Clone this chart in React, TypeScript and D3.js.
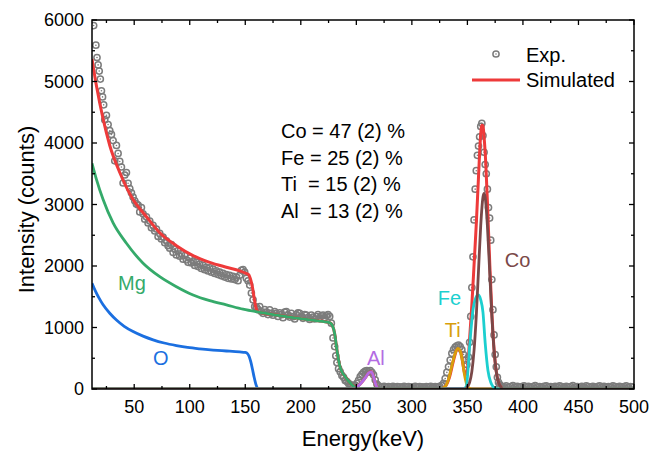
import * as d3 from "d3";

type Pt = [number, number];

// experimental spectrum (energy keV, counts)
const expData: Pt[] = [
  [13.5, 5910], [15.5, 5590], [16.5, 5390], [17.5, 5270], [18.5, 5170], [19.5, 5040], [20.5, 4850], [21.5, 4750],
  [22.5, 4620], [23.5, 4380], [25, 4450], [26.5, 4300], [28, 4200], [29.5, 4140], [31, 4040], [32.5, 3710],
  [34, 3960], [35.5, 3830], [37, 3700], [38.5, 3610], [40, 3350], [41.5, 3480], [43, 3520], [44.5, 3345],
  [46, 3260], [47.5, 3190], [49, 3120], [50.5, 3060],
  [52, 3010], [53.5, 2990], [55, 2880], [56.5, 2950], [58, 2850], [59.5, 2760], [61, 2800], [62.5, 2700],
  [64, 2730], [65.5, 2620], [67, 2660], [68.5, 2570], [70, 2600], [71.5, 2480], [73, 2530], [74.5, 2440],
  [76, 2470], [77.5, 2380], [79, 2410], [80.5, 2330], [82, 2290], [83.5, 2350], [85, 2220], [86.5, 2280],
  [88, 2180], [89.5, 2250], [91, 2160], [92.5, 2200], [94, 2110], [95.5, 2170], [97, 2100], [98.5, 2060],
  [100, 2130], [101.5, 2050], [103, 2080], [104.5, 2010], [106, 2060], [107.5, 1990], [109, 2030], [110.5, 1960],
  [112, 2010], [113.5, 1940], [115, 1980], [116.5, 1920], [118, 1970], [119.5, 1900], [121, 1950], [122.5, 1880],
  [124, 1920], [125.5, 1860], [127, 1900], [128.5, 1840], [130, 1880], [131.5, 1820], [133, 1860], [134.5, 1800],
  [136, 1850], [137.5, 1790], [139, 1830], [140.5, 1780], [142, 1820], [143.5, 1760], [145, 1850], [146.5, 1930],
  [148, 1940], [149.5, 1900], [151, 1800], [152.5, 1760], [154, 1690], [155.5, 1560], [157, 1450], [158.5, 1340],
  [160, 1330], [161.5, 1290], [163, 1340], [164.5, 1260], [166, 1230], [167.5, 1290], [169, 1250], [170.5, 1210],
  [172, 1285], [173.5, 1230], [175, 1200], [176.5, 1260], [178, 1230], [179.5, 1180], [181, 1240], [182.5, 1210],
  [184, 1160], [185.5, 1250], [187, 1257], [188.5, 1200], [190, 1170], [191.5, 1230], [193, 1176], [194.5, 1140],
  [196, 1210], [197.5, 1240], [199, 1230], [200.5, 1180], [202, 1150], [203.5, 1210], [205, 1203], [206.5, 1160],
  [208, 1130], [209.5, 1200], [211, 1170], [212.5, 1140], [214, 1176], [215.5, 1210], [217, 1150], [218.5, 1190],
  [220, 1203], [221.5, 1160], [223, 1190], [224.5, 1210], [226, 1180], [227.5, 1070], [229, 830], [230.5, 690],
  [231.5, 540], [232.5, 430], [234, 330], [235.5, 280], [237, 220], [238.5, 190], [240, 140], [241.5, 120],
  [243, 90], [244.5, 70], [246, 60], [247.5, 55],
  [249, 60], [250.5, 90], [252, 140], [253.5, 200], [255, 240], [256.5, 270], [258, 290], [259.5, 300],
  [261, 280], [262.5, 300], [264, 270], [265.5, 230], [267, 150], [268.5, 80], [270, 50], [271.5, 40],
  [273, 35], [275, 45], [277, 30], [279, 40], [281, 35], [283, 45], [285, 30], [287, 40],
  [289, 35], [291, 30], [293, 45], [295, 35], [297, 40], [299, 30], [301, 35], [303, 45],
  [305, 30], [307, 40], [309, 35], [311, 30], [313, 40], [315, 35], [317, 45], [319, 30],
  [321, 40], [323, 35], [325, 45], [327, 60],
  [328.5, 90], [330, 170], [331.5, 270], [333, 360], [334.5, 470], [336, 580], [337.5, 640], [339, 680],
  [340.5, 700], [342, 715], [343.5, 690], [345, 640], [346.5, 560], [348, 470], [349.5, 400], [351, 520],
  [352, 760], [353, 1180], [354, 1650], [355, 2150], [356, 2750], [357, 3250], [358, 3550], [359, 3800],
  [360, 3950], [361, 4100], [362, 4270], [363, 4320], [364, 4120], [365, 3850], [366, 3650], [367, 3500],
  [368, 3250], [369, 2950], [370, 2780], [371, 2420], [372, 1780], [373, 1290], [374, 880], [375, 560],
  [376, 360], [377, 190], [378, 110], [379, 70], [380, 50],
  [381, 45], [383, 35], [385, 50], [387, 30], [389, 40], [391, 55], [393, 35], [395, 45],
  [397, 30], [399, 40], [401, 50], [403, 35], [405, 45], [407, 30], [409, 40], [411, 55],
  [413, 35], [415, 40], [417, 30], [419, 45], [421, 50], [423, 35], [425, 40], [427, 30],
  [429, 45], [431, 35], [433, 50], [435, 40], [437, 30], [439, 45], [441, 35], [443, 40],
  [445, 55], [447, 30], [449, 40], [451, 35], [453, 45], [455, 30], [457, 50], [459, 40],
  [461, 35], [463, 45], [465, 30], [467, 40], [469, 50], [471, 35], [473, 45], [475, 30],
  [477, 40], [479, 35], [481, 50], [483, 40], [485, 30], [487, 45], [489, 35], [491, 40],
  [493, 50], [495, 30], [497, 40], [499, 35],
];

// simulated total
const simulated: Pt[] = [
  [12, 5366], [16, 4930], [22, 4390], [28, 3960], [37, 3520], [48, 3110], [61, 2800], [73, 2540],
  [88, 2330], [103, 2170], [118, 2060], [133, 1980], [145, 1920], [150, 1885], [153, 1860], [155, 1770],
  [156.5, 1650], [158, 1480], [159.5, 1330], [161, 1265], [163, 1247], [178, 1203], [193, 1162], [208, 1124],
  [224, 1086], [226.5, 1075], [228.5, 1030], [230.5, 900], [232, 700], [233.5, 520], [235, 380], [237, 280],
  [240, 200], [243, 130], [246, 70], [249, 40], [250, 35], [254, 90], [258, 180], [261, 260],
  [263.5, 280], [265.5, 200], [267, 100], [268.5, 30], [270, 0], [326, 0], [330, 40], [334, 200],
  [338, 500], [341, 650], [344, 600], [346, 400], [348, 225], [350, 315], [352, 820], [354, 1370],
  [356, 2020], [358, 2680], [360, 3450], [362, 4150], [363, 4290], [364, 4280], [365, 4100], [366, 3850],
  [368, 3050], [370, 2100], [372, 1250], [374, 650], [376, 283], [378, 108], [380, 35], [382, 0], [500, 0],
];

const oxygen: Pt[] = [
  [12, 1720], [15, 1595], [18, 1490], [22, 1370], [28, 1232], [34, 1122], [41, 1020], [49, 935],
  [58, 860], [67, 800], [77, 748], [88, 706], [98, 675], [109, 652], [121, 633], [133, 618],
  [145, 602], [150, 594], [152, 575], [153.5, 530], [155, 440], [156.5, 320], [158, 190], [159.5, 80],
  [161, 15], [162.5, 0], [500, 0],
];

const magnesium: Pt[] = [
  [12, 3670], [16, 3410], [22, 3080], [31, 2700], [43, 2370], [58, 2045], [73, 1826], [88, 1663],
  [103, 1528], [118, 1436], [133, 1368], [148, 1298], [163, 1247], [178, 1203], [193, 1162], [208, 1124],
  [224, 1086], [226.5, 1075], [228.5, 1030], [230.5, 900], [232, 700], [233.5, 520], [235, 380], [237, 280],
  [240, 200], [243, 130], [246, 70], [249, 25], [252, 0], [500, 0],
];

const aluminium: Pt[] = [
  [12, 0], [246, 0], [250, 20], [254, 90], [258, 180], [261, 260], [263.5, 280], [265.5, 200],
  [267, 100], [268.5, 30], [270, 0], [500, 0],
];

const titanium: Pt[] = [
  [12, 0], [326, 0], [330, 40], [333, 160], [336, 380], [339, 580], [341.5, 660], [343.5, 620],
  [345.5, 460], [347.5, 220], [349.5, 70], [352, 10], [355, 0], [500, 0],
];

const iron: Pt[] = [
  [12, 0], [346, 0], [349, 40], [352, 700], [355, 1285], [357.5, 1480], [359.7, 1530], [362, 1450],
  [364, 1250], [366, 750], [368.5, 300], [371, 110], [373, 40], [376, 0], [500, 0],
];

const cobalt: Pt[] = [
  [12, 0], [348, 0], [350, 35], [352, 108], [354, 283], [356, 630], [358, 1193], [360, 1929],
  [362, 2657], [364, 3117], [365, 3180], [366, 3117], [368, 2657], [370, 1929], [372, 1193], [374, 630],
  [376, 283], [378, 108], [380, 35], [382, 0], [500, 0],
];

const xTicks = [50, 100, 150, 200, 250, 300, 350, 400, 450, 500];
const xMinor = [25, 75, 125, 175, 225, 275, 325, 375, 425, 475];
const yTicks = [0, 1000, 2000, 3000, 4000, 5000, 6000];
const yMinor = [500, 1500, 2500, 3500, 4500, 5500];

const composition = ["Co = 47 (2) %", "Fe = 25 (2) %", "Ti  = 15 (2) %", "Al  = 13 (2) %"];

const FONT = "'Liberation Sans', Arial, Helvetica, sans-serif";

export default function App() {
  const width = 666;
  const height = 454;
  const left = 92, right = 634, top = 20, bottom = 389;

  const x = d3.scaleLinear().domain([12, 500]).range([left, right]);
  const y = d3.scaleLinear().domain([0, 6000]).range([bottom, top]);

  const line = d3
    .line<Pt>()
    .x((d) => x(d[0]))
    .y((d) => y(d[1]))
    .curve(d3.curveMonotoneX);

  const curves = [
    { data: oxygen, color: "#1B6FE0" },
    { data: magnesium, color: "#35AA6A" },
    { data: aluminium, color: "#B36CE3" },
    { data: titanium, color: "#D89E0C" },
    { data: iron, color: "#1CCFCF" },
    { data: cobalt, color: "#7A4848" },
  ];

  return (
    <svg
      width={width}
      height={height}
      style={{ position: "absolute", left: 0, top: 0, background: "#fff" }}
      fontFamily={FONT}
    >
      <defs>
        <clipPath id="plot">
          <rect x={left} y={top - 2} width={right - left} height={bottom - top + 2} />
        </clipPath>
      </defs>

      <g clipPath="url(#plot)">
        {/* experimental points */}
        {expData.map((d, i) => (
          <g key={i}>
            <circle cx={x(d[0])} cy={y(d[1])} r={3.1} fill="none" stroke="#7C7C7C" strokeWidth={1.5} />
            <circle cx={x(d[0])} cy={y(d[1])} r={0.8} fill="#7C7C7C" />
          </g>
        ))}
        <path d={line(simulated) ?? ""} fill="none" stroke="#EE3A3A" strokeWidth={3} />
        {curves.map((c, i) => (
          <path key={i} d={line(c.data) ?? ""} fill="none" stroke={c.color} strokeWidth={2.8} />
        ))}
      </g>

      {/* frame */}
      <rect x={left} y={top} width={right - left} height={bottom - top} fill="none" stroke="#000" strokeWidth={1.5} />

      {/* x ticks bottom & top */}
      {xTicks.map((t) => (
        <g key={"xt" + t}>
          <line x1={x(t)} x2={x(t)} y1={bottom} y2={bottom - 5} stroke="#000" strokeWidth={1.3} />
          <line x1={x(t)} x2={x(t)} y1={top} y2={top + 5} stroke="#000" strokeWidth={1.3} />
          <text x={x(t)} y={bottom + 24} textAnchor="middle" fontSize={18} fill="#000">
            {t}
          </text>
        </g>
      ))}
      {xMinor.map((t) => (
        <g key={"xm" + t}>
          <line x1={x(t)} x2={x(t)} y1={bottom} y2={bottom - 3} stroke="#000" strokeWidth={1.3} />
          <line x1={x(t)} x2={x(t)} y1={top} y2={top + 3} stroke="#000" strokeWidth={1.3} />
        </g>
      ))}

      {/* y ticks left & right */}
      {yTicks.map((t) => (
        <g key={"yt" + t}>
          <line x1={left} x2={left + 5} y1={y(t)} y2={y(t)} stroke="#000" strokeWidth={1.3} />
          <line x1={right} x2={right - 5} y1={y(t)} y2={y(t)} stroke="#000" strokeWidth={1.3} />
          <text x={left - 8} y={y(t)} dy="0.36em" textAnchor="end" fontSize={18} fill="#000">
            {t}
          </text>
        </g>
      ))}
      {yMinor.map((t) => (
        <g key={"ym" + t}>
          <line x1={left} x2={left + 3} y1={y(t)} y2={y(t)} stroke="#000" strokeWidth={1.3} />
          <line x1={right} x2={right - 3} y1={y(t)} y2={y(t)} stroke="#000" strokeWidth={1.3} />
        </g>
      ))}

      {/* axis titles */}
      <text x={(left + right) / 2} y={446} textAnchor="middle" fontSize={22} fill="#000">
        Energy(keV)
      </text>
      <text
        transform={`translate(34, ${(top + bottom) / 2 + 5}) rotate(-90)`}
        textAnchor="middle"
        fontSize={22}
        fill="#000"
      >
        Intensity (counts)
      </text>

      {/* element labels */}
      <text x={x(35.4)} y={y(1610)} fontSize={20} fill="#35AA6A">Mg</text>
      <text x={x(66.9)} y={y(390)} fontSize={20} fill="#1B6FE0">O</text>
      <text x={x(259.5)} y={y(390)} fontSize={20} fill="#B36CE3">Al</text>
      <text x={x(323.4)} y={y(1366)} fontSize={20} fill="#1CCFCF">Fe</text>
      <text x={x(329.7)} y={y(846)} fontSize={20} fill="#D89E0C">Ti</text>
      <text x={x(383.7)} y={y(1984)} fontSize={20} fill="#7A4848">Co</text>

      {/* composition */}
      {composition.map((s, i) => (
        <text key={s} x={281} y={138 + i * 26.5} fontSize={20} fill="#000" style={{ whiteSpace: "pre" }}>
          {s}
        </text>
      ))}

      {/* legend */}
      <circle cx={496} cy={54} r={3.1} fill="none" stroke="#7C7C7C" strokeWidth={1.5} />
      <circle cx={496} cy={54} r={0.8} fill="#7C7C7C" />
      <text x={526} y={62} fontSize={20} fill="#000">Exp.</text>
      <line x1={472} x2={520} y1={80} y2={80} stroke="#EE3A3A" strokeWidth={3} />
      <text x={526} y={87} fontSize={20} fill="#000">Simulated</text>
    </svg>
  );
}
